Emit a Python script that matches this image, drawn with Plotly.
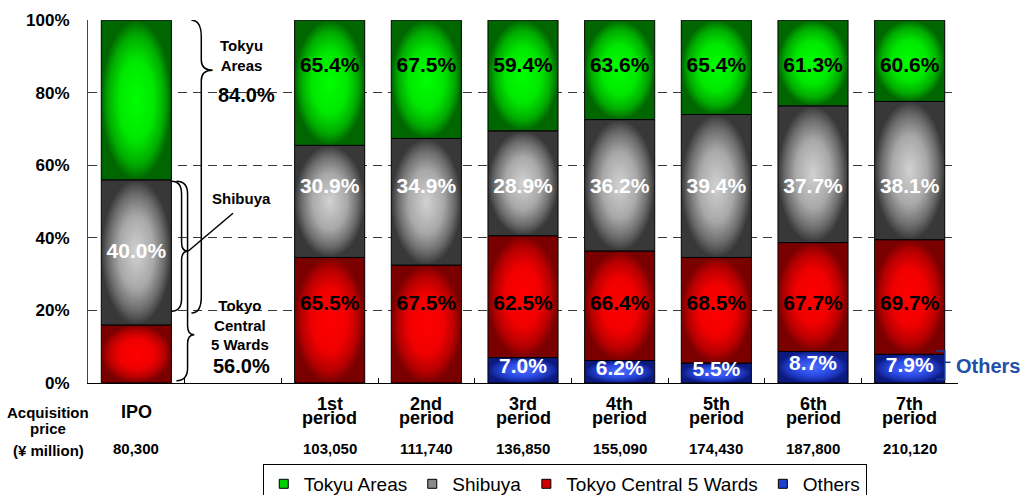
import plotly.graph_objects as go

# ---------------- data ----------------
categories = ["IPO", "1st period", "2nd period", "3rd period", "4th period",
              "5th period", "6th period", "7th period"]
prices = ["80,300", "103,050", "111,740", "136,850", "155,090", "174,430", "187,800", "210,120"]

# segment heights (bottom -> top)
others = [0.0, 0.0, 0.0, 7.0, 6.2, 5.5, 8.7, 7.9]
central5 = [16.0, 34.6, 32.5, 33.6, 30.2, 29.1, 30.0, 31.6]
shibuya = [40.0, 30.9, 34.9, 28.9, 36.2, 39.4, 37.7, 38.1]
tokyu = [44.0, 34.5, 32.6, 30.5, 27.4, 26.0, 23.6, 22.4]

# printed labels
label_tokyu = [None, "65.4%", "67.5%", "59.4%", "63.6%", "65.4%", "61.3%", "60.6%"]
label_shibuya = ["40.0%", "30.9%", "34.9%", "28.9%", "36.2%", "39.4%", "37.7%", "38.1%"]
label_central = [None, "65.5%", "67.5%", "62.5%", "66.4%", "68.5%", "67.7%", "69.7%"]
label_others = [None, None, None, "7.0%", "6.2%", "5.5%", "8.7%", "7.9%"]

series_names = ["Tokyu Areas", "Shibuya", "Tokyo Central 5 Wards", "Others"]
y_ticks = [0, 20, 40, 60, 80, 100]

# ---------------- styles ----------------
FONT = "Liberation Sans, Arial, sans-serif"
BAR_W = 0.725
slot = [0] + [i + 2 for i in range(len(categories) - 1)]

scales = {
    "Others": [[0, "#4a6cff"], [0.5, "#2c4ce6"], [0.8, "#1a32b4"], [1, "#0c1a80"]],
    "Tokyo Central 5 Wards": [[0, "#ff0000"], [0.5, "#f00000"], [0.8, "#b80000"], [1, "#7a0000"]],
    "Shibuya": [[0, "#d2d2d2"], [0.5, "#a8a8a8"], [0.8, "#6c6c6c"], [1, "#383838"]],
    "Tokyu Areas": [[0, "#00ff00"], [0.5, "#00e800"], [0.8, "#00ac00"], [1, "#006600"]],
}
legend_colors = {"Tokyu Areas": "#00d000", "Shibuya": "#8a8a8a",
                 "Tokyo Central 5 Wards": "#d00000", "Others": "#1f3fd0"}

fig = go.Figure()

# ---------------- bars as gradient-filled polygons ----------------
stack = [("Others", others), ("Tokyo Central 5 Wards", central5),
         ("Shibuya", shibuya), ("Tokyu Areas", tokyu)]
base = [0.0] * len(categories)
bounds = {}
for name, vals in stack:
    lo, hi = [], []
    for i, v in enumerate(vals):
        b = base[i]
        t = min(b + v, 100.0)
        lo.append(b)
        hi.append(t)
        if v > 0:
            xc = slot[i]
            x0, x1 = xc - BAR_W / 2, xc + BAR_W / 2
            fig.add_trace(go.Scatter(
                x=[x0, x1, x1, x0, x0], y=[b, b, t, t, b],
                mode="lines", fill="toself",
                fillgradient=dict(type="radial", colorscale=scales[name]),
                line=dict(color="black", width=1),
                showlegend=False, hoverinfo="skip"))
        base[i] = t
    bounds[name] = (lo, hi)

# ---------------- value labels ----------------
LY_TOKYU, LY_SHIBUYA, LY_CENTRAL = 87.2, 53.7, 21.5
lab_font = dict(family=FONT, size=21, weight="bold")

def add_labels(labels, ys, color):
    xs = [slot[i] for i, l in enumerate(labels) if l]
    yy = [ys[i] for i, l in enumerate(labels) if l]
    tt = [l for l in labels if l]
    fig.add_trace(go.Scatter(x=xs, y=yy, text=tt, mode="text",
                             textposition="middle center",
                             textfont=dict(color=color, **lab_font),
                             showlegend=False, hoverinfo="skip"))

lo, hi = bounds["Shibuya"]
ys_sh = [(lo[i] + hi[i]) / 2 if i == 0 else LY_SHIBUYA for i in range(len(categories))]
add_labels(label_tokyu, [LY_TOKYU] * len(categories), "black")
add_labels(label_shibuya, ys_sh, "white")
add_labels(label_central, [LY_CENTRAL] * len(categories), "black")
lo, hi = bounds["Others"]
add_labels(label_others, [(lo[i] + hi[i]) / 2 + 0.6 for i in range(len(categories))], "white")

# ---------------- legend entries ----------------
for name in series_names:
    fig.add_trace(go.Scatter(x=[None], y=[None], mode="markers", name=name,
                             marker=dict(symbol="square", size=9, color=legend_colors[name],
                                         line=dict(color="black", width=1))))

# ---------------- braces at IPO ----------------
shapes = []
def brace(xa, xm, xt, ytop, ytip, ybot, r, r2):
    return (f"M{xa},{ytop} Q{xm},{ytop} {xm},{ytop - r} L{xm},{ytip + r2} "
            f"Q{xm},{ytip} {xt},{ytip} Q{xm},{ytip} {xm},{ytip - r2} "
            f"L{xm},{ybot + r} Q{xm},{ybot} {xa},{ybot}")

line_style = dict(color="black", width=1.5)
shapes.append(dict(type="path", xref="x", yref="y", line=line_style,
                   path=brace(0.57, 0.672, 0.79, 100, 86.2, 19.3, 4.5, 2.8)))
shapes.append(dict(type="path", xref="x", yref="y", line=line_style,
                   path=brace(0.365, 0.468, 0.535, 55.6, 36.3, 19.8, 3.5, 2.5)))
shapes.append(dict(type="path", xref="x", yref="y", line=line_style,
                   path=brace(0.415, 0.53, 0.60, 55.6, 13.3, 0.6, 3.5, 2.5)))
shapes.append(dict(type="line", xref="x", yref="y", x0=0.535, y0=36.3, x1=1.0, y1=46.8,
                   line=line_style))

# ---------------- "Others" bracket on the last bar ----------------
xr = slot[-1] + BAR_W / 2
top_o = others[-1] + 0.9
navy = "#1a3a9a"
shapes.append(dict(type="path", xref="x", yref="y", line=dict(color=navy, width=1.5),
                   path=f"M{xr - 0.09},{top_o} L{xr},{top_o} L{xr},1.0 L{xr - 0.09},1.0"))
shapes.append(dict(type="line", xref="x", yref="y", x0=xr, x1=xr + 0.06,
                   y0=5.7, y1=5.7, line=dict(color=navy, width=1.5)))

# ---------------- annotations ----------------
ann = []
small = dict(family=FONT, size=15, color="black", weight="bold")
big = dict(family=FONT, size=20, color="black", weight="bold")
ann.append(dict(x=1.09, y=90.3, xref="x", yref="y", text="Tokyu<br>Areas",
                showarrow=False, font=small))
ann.append(dict(x=1.135, y=79.4, xref="x", yref="y", text="84.0%", showarrow=False, font=big))
ann.append(dict(x=1.09, y=50.8, xref="x", yref="y", text="Shibuya", showarrow=False, font=small))
ann.append(dict(x=1.07, y=15.9, xref="x", yref="y", text="Tokyo<br>Central<br>5 Wards",
                showarrow=False, font=small))
ann.append(dict(x=1.085, y=4.6, xref="x", yref="y", text="56.0%", showarrow=False, font=big))
ann.append(dict(x=xr + 0.1, y=4.6, xref="x", yref="y", text="Others", xanchor="left",
                showarrow=False, font=dict(family=FONT, size=20, color="#1f4fa8", weight="bold")))

cat_font = dict(family=FONT, size=18, color="black", weight="bold")
price_font = dict(family=FONT, size=15, color="black", weight="bold")
for i, c in enumerate(categories):
    parts = c.split(" ")
    if len(parts) == 1:
        ann.append(dict(x=slot[i], y=0, xref="x", yref="paper", yshift=-29, text=parts[0],
                        showarrow=False, font=cat_font, yanchor="middle"))
    else:
        ann.append(dict(x=slot[i], y=0, xref="x", yref="paper", yshift=-21, text=parts[0],
                        showarrow=False, font=cat_font, yanchor="middle"))
        ann.append(dict(x=slot[i], y=0, xref="x", yref="paper", yshift=-35, text=parts[1],
                        showarrow=False, font=cat_font, yanchor="middle"))
    ann.append(dict(x=slot[i], y=0, xref="x", yref="paper", yshift=-65, text=prices[i],
                    showarrow=False, font=price_font, yanchor="middle"))

for txt, dy in [("Acquisition", -29), ("price", -45), ("(¥ million)", -67)]:
    ann.append(dict(x=0, y=0, xref="paper", yref="paper", xshift=-40, yshift=dy, text=txt,
                    showarrow=False, font=price_font, yanchor="middle", xanchor="center"))

fig.update_layout(
    width=1022, height=495,
    margin=dict(l=88, r=64, t=20, b=112, autoexpand=False),
    paper_bgcolor="white", plot_bgcolor="white",
    shapes=shapes, annotations=ann,
    showlegend=True,
    legend=dict(orientation="h", x=0.548, xanchor="center", y=-0.223, yanchor="top",
                bordercolor="black", borderwidth=1, bgcolor="white",
                font=dict(family=FONT, size=19, color="black"),
                itemclick=False, itemdoubleclick=False),
    xaxis=dict(range=[-0.5, 8.5], showgrid=False, zeroline=False, showline=True,
               linecolor="black", linewidth=1, ticks="inside", ticklen=5, tickcolor="black",
               tickvals=[k - 0.5 for k in range(10)], showticklabels=False, fixedrange=True),
    yaxis=dict(range=[0, 100.05], tickvals=y_ticks, ticktext=[f"{v}%" for v in y_ticks],
               showgrid=True, gridcolor="#3a3a3a", gridwidth=1, griddash="9px,6px",
               zeroline=False, showline=True, linecolor="#444444", linewidth=1,
               tickfont=dict(family=FONT, size=17, color="black", weight="bold"),
               ticklabelstandoff=14, fixedrange=True),
)

fig.write_html("out.html")
